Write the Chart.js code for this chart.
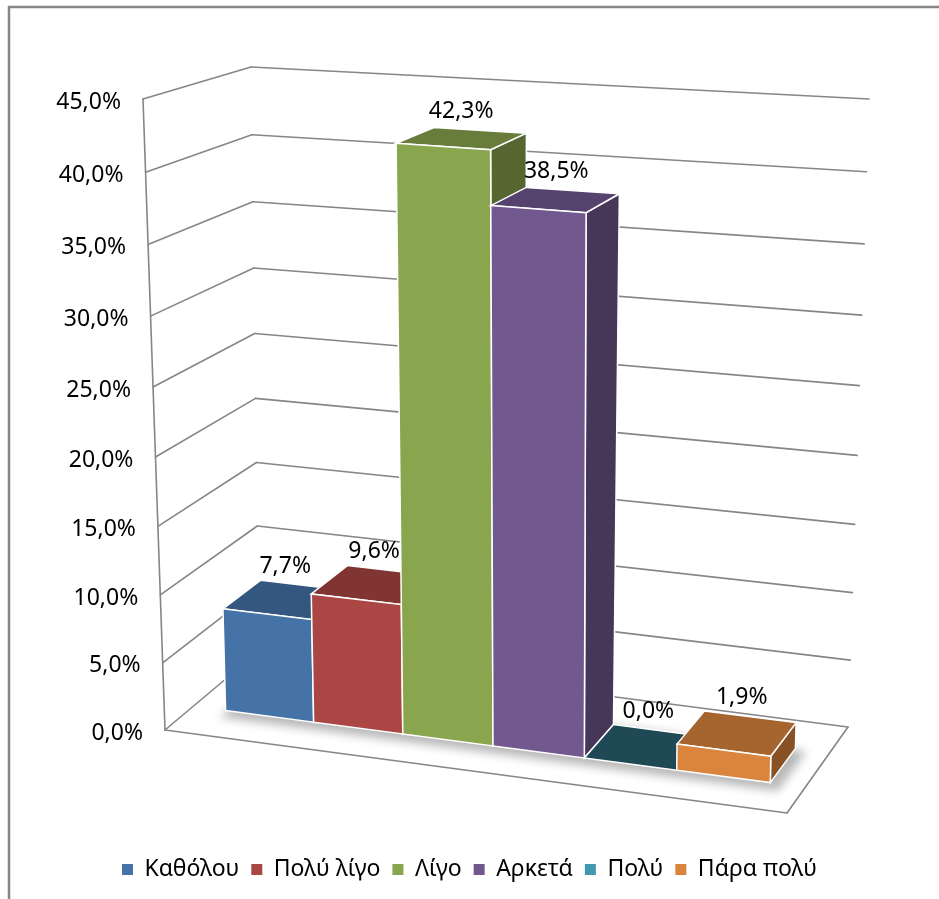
<!DOCTYPE html>
<html>
<head>
<meta charset="utf-8">
<script src="https://cdn.jsdelivr.net/npm/chart.js@4.4.1/dist/chart.umd.min.js"></script>
<style>
  html, body { margin: 0; padding: 0; background: #fff; }
  canvas { display: block; }
</style>
</head>
<body>
<canvas id="chart" width="939" height="899"></canvas>
<script>
const seriesNames = ["Καθόλου", "Πολύ λίγο", "Λίγο", "Αρκετά", "Πολύ", "Πάρα πολύ"];
const seriesValues = [7.7, 9.6, 42.3, 38.5, 0.0, 1.9];
const seriesColors = ["#4572A7", "#AA4643", "#89A54E", "#71588F", "#4198AF", "#DB843D"];
const yTicks = [0, 5, 10, 15, 20, 25, 30, 35, 40, 45];

const FONT = "'Noto Sans', 'DejaVu Sans', sans-serif";
const GRID = "#868686";

// screen corners of the 3D box: c[u][d][v], u = left/right, d = front/back, v = floor/top
const box = {
    c000: [165, 730], c100: [787, 813], c010: [259, 651], c110: [848, 727],
    c001: [143, 99],  c101: [797, 145], c011: [251, 67],  c111: [869, 99]
};
const BAR_FRONT = 0.3, BAR_BACK = 0.7;
// small foreshortening so far things get a bit narrower / shorter
const SKEW_U = -0.04, SKEW_V = -0.047;

function lerp(a, b, t) { return [a[0] + (b[0] - a[0]) * t, a[1] + (b[1] - a[1]) * t]; }
function bilin(p00, p10, p01, p11, u, d) { return lerp(lerp(p00, p10, u), lerp(p01, p11, u), d); }
function warp(t, s) { return t * (1 + s) / (1 + s * t); }
function proj(u, d, v) {
    u = warp(u, SKEW_U);
    v = warp(v, SKEW_V);
    const lo = bilin(box.c000, box.c100, box.c010, box.c110, u, d);
    const hi = bilin(box.c001, box.c101, box.c011, box.c111, u, d);
    return lerp(lo, hi, v);
}

function shade(hex, f) {
    const n = parseInt(hex.slice(1), 16);
    const r = Math.round(((n >> 16) & 255) * f), g = Math.round(((n >> 8) & 255) * f), b = Math.round((n & 255) * f);
    return `rgb(${r},${g},${b})`;
}

function fmt(v) { return v.toFixed(1).replace(".", ",") + "%"; }

function poly(ctx, pts, fill, stroke) {
    ctx.beginPath();
    pts.forEach((p, i) => i ? ctx.lineTo(p[0], p[1]) : ctx.moveTo(p[0], p[1]));
    ctx.closePath();
    if (fill) { ctx.fillStyle = fill; ctx.fill(); }
    if (stroke) { ctx.strokeStyle = stroke; ctx.lineWidth = 1.5; ctx.stroke(); }
}

function line(ctx, a, b) {
    ctx.beginPath();
    ctx.moveTo(a[0], a[1]);
    ctx.lineTo(b[0], b[1]);
    ctx.stroke();
}

const frame = {
    id: "frame",
    beforeDraw(chart) {
        const ctx = chart.ctx;
        ctx.save();
        ctx.fillStyle = "#fff";
        ctx.fillRect(0, 0, chart.width, chart.height);
        ctx.strokeStyle = GRID;
        ctx.lineWidth = 2.5;
        ctx.strokeRect(9, 7, chart.width + 20, chart.height + 20);
        ctx.restore();
    }
};

const threeD = {
    id: "threeD",
    beforeDatasetsDraw(chart) {
        const { ctx, chartArea: a, scales: { y } } = chart;
        const vOf = px => (a.bottom - px) / a.height;

        ctx.save();
        ctx.strokeStyle = GRID;
        ctx.lineWidth = 1.6;
        ctx.lineCap = "round";

        // walls: gridlines on the left wall and the back wall
        y.ticks.forEach(t => {
            const v = vOf(y.getPixelForValue(t.value));
            line(ctx, proj(0, 0, v), proj(0, 1, v));
            line(ctx, proj(0, 1, v), proj(1, 1, v));
        });
        // floor edges and value axis
        line(ctx, proj(0, 0, 0), proj(1, 0, 0));
        line(ctx, proj(1, 0, 0), proj(1, 1, 0));
        line(ctx, proj(0, 0, 0), proj(0, 0, 1));

        // tick labels along the front edge of the left wall
        ctx.fillStyle = "#000";
        ctx.font = `23px ${FONT}`;
        ctx.textAlign = "right";
        ctx.textBaseline = "middle";
        y.ticks.forEach(t => {
            const p = proj(0, 0, vOf(y.getPixelForValue(t.value)));
            ctx.fillText(fmt(t.value), p[0] - 22, p[1] + 3);
        });

        const bars = chart.data.datasets.map((ds, i) => {
            const el = chart.getDatasetMeta(i).data[0];
            const { x, y: top, width } = el.getProps(["x", "y", "width"], true);
            return {
                u0: (x - width / 2 - a.left) / a.width,
                u1: (x + width / 2 - a.left) / a.width,
                v: vOf(top),
                value: ds.data[0],
                color: ds.backgroundColor
            };
        });

        // soft shadow on the floor
        const first = bars[0], last = bars[bars.length - 1];
        ctx.save();
        ctx.filter = "blur(5px)";
        ctx.translate(3, 5);
        poly(ctx, [
            proj(first.u0 - 0.01, BAR_FRONT - 0.03, 0), proj(last.u1 + 0.01, BAR_FRONT - 0.03, 0),
            proj(last.u1 + 0.01, BAR_BACK + 0.03, 0), proj(first.u0 - 0.01, BAR_BACK + 0.03, 0)
        ], "rgba(0,0,0,0.28)");
        ctx.restore();

        // bars, left to right so the right side faces stack correctly
        bars.forEach(b => {
            const { u0, u1, v } = b;
            poly(ctx, [proj(u1, BAR_FRONT, 0), proj(u1, BAR_BACK, 0), proj(u1, BAR_BACK, v), proj(u1, BAR_FRONT, v)],
                shade(b.color, 0.62), "#fff");
            poly(ctx, [proj(u0, BAR_FRONT, v), proj(u1, BAR_FRONT, v), proj(u1, BAR_BACK, v), proj(u0, BAR_BACK, v)],
                shade(b.color, b.value === 0 ? 0.48 : 0.76), "#fff");
            if (v > 0) {
                poly(ctx, [proj(u0, BAR_FRONT, 0), proj(u1, BAR_FRONT, 0), proj(u1, BAR_FRONT, v), proj(u0, BAR_FRONT, v)],
                    b.color, "#fff");
            }
        });

        // value labels above each bar
        ctx.fillStyle = "#000";
        ctx.font = `23px ${FONT}`;
        ctx.textAlign = "center";
        ctx.textBaseline = "middle";
        bars.forEach(b => {
            const um = (b.u0 + b.u1) / 2;
            const front = proj(um, BAR_FRONT, b.v), back = proj(um, BAR_BACK, b.v);
            ctx.fillText(fmt(b.value), front[0] + 18, back[1] - 19);
        });

        ctx.restore();
        return false;
    }
};

new Chart(document.getElementById("chart"), {
    type: "bar",
    data: {
        labels: [""],
        datasets: seriesNames.map((name, i) => ({
            label: name,
            data: [seriesValues[i]],
            backgroundColor: seriesColors[i],
            borderWidth: 0
        }))
    },
    options: {
        responsive: false,
        animation: false,
        devicePixelRatio: 1,
        layout: { padding: { bottom: 8 } },
        datasets: { bar: { barPercentage: 1, categoryPercentage: 0.89 } },
        scales: {
            x: { display: false },
            y: {
                display: false,
                min: 0,
                max: 45,
                afterBuildTicks: scale => { scale.ticks = yTicks.map(v => ({ value: v })); }
            }
        },
        plugins: {
            tooltip: { enabled: false },
            legend: {
                position: "bottom",
                labels: {
                    color: "#000",
                    font: { family: FONT, size: 23 },
                    boxWidth: 11,
                    boxHeight: 11,
                    padding: 12
                }
            }
        }
    },
    plugins: [frame, threeD]
});
</script>
</body>
</html>
